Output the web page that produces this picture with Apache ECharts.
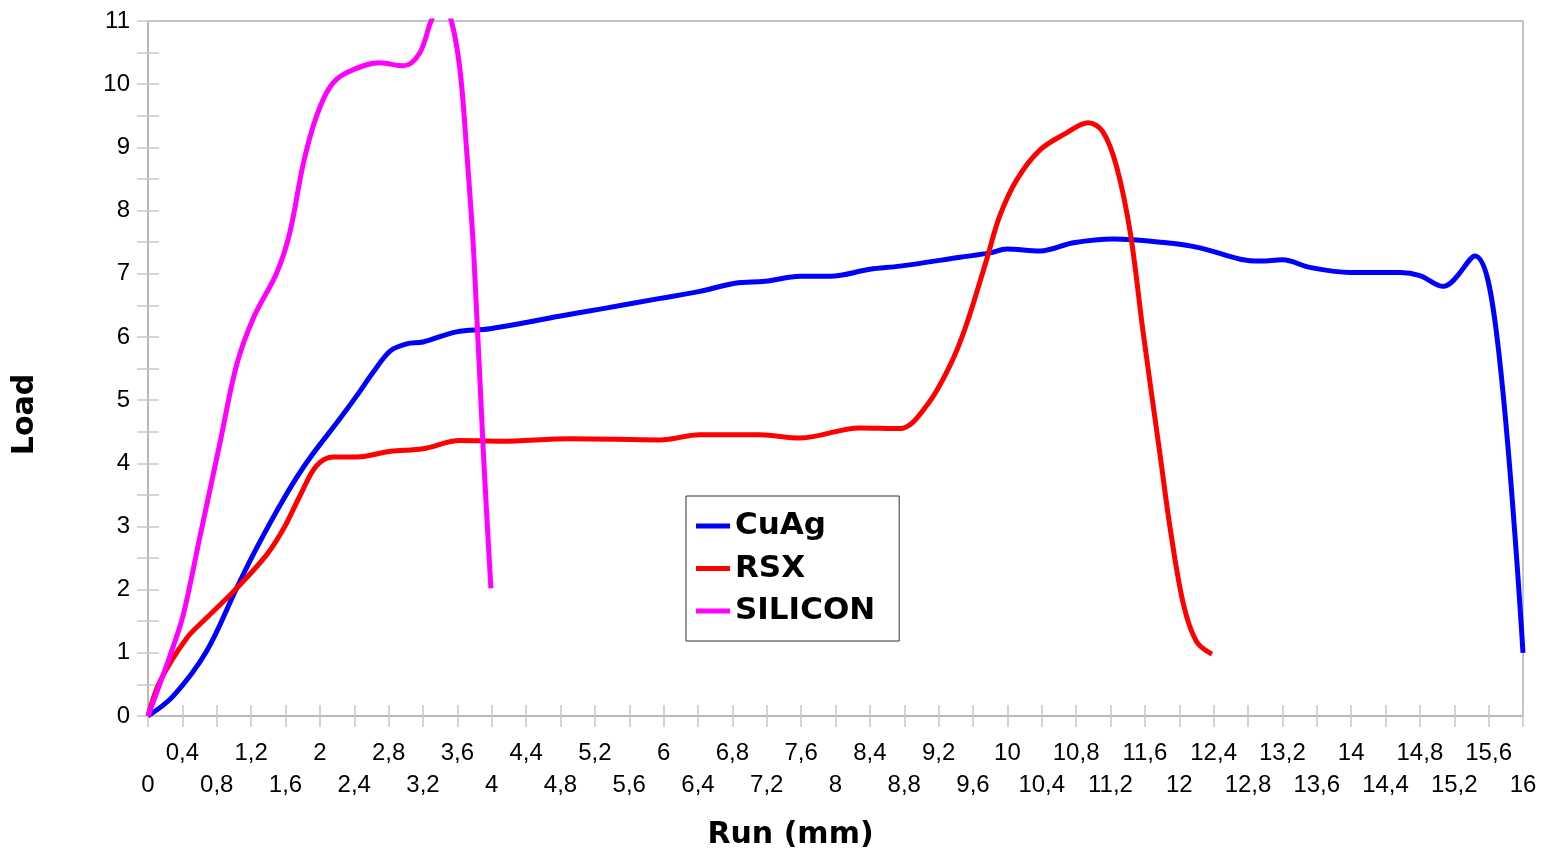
<!DOCTYPE html>
<html>
<head>
<meta charset="utf-8">
<script src="https://cdn.jsdelivr.net/npm/echarts@6/dist/echarts.min.js"></script>
<style>html,body{margin:0;padding:0;background:#fff}#c{width:1543px;height:855px}</style>
</head>
<body>
<div id="c"></div>
<script>
// Data
const seriesNames = ['CuAg', 'RSX', 'SILICON'];
const cuagRun  = [0, 0.29, 0.68, 1.03, 1.26, 1.58, 1.85, 2.23, 2.43, 2.62, 2.82, 3.01, 3.2, 3.59, 3.98, 4.8, 5.26, 5.96, 6.42, 6.83, 7.18, 7.59, 7.94, 8.4, 8.75, 9.45, 9.8, 9.99, 10.38, 10.77, 11.23, 11.85, 12.24, 12.71, 12.95, 13.2, 13.52, 13.99, 14.57, 14.8, 15.07, 15.44, 15.7, 16.0];
const cuagLoad = [0, 0.31, 1.02, 2.02, 2.65, 3.44, 4.02, 4.7, 5.07, 5.44, 5.78, 5.89, 5.92, 6.08, 6.13, 6.33, 6.44, 6.61, 6.72, 6.85, 6.88, 6.96, 6.96, 7.07, 7.12, 7.26, 7.33, 7.39, 7.36, 7.49, 7.55, 7.49, 7.41, 7.23, 7.2, 7.22, 7.1, 7.02, 7.02, 6.97, 6.8, 7.28, 5.97, 1.0];
const rsxRun   = [0, 0.14, 0.45, 0.68, 1.03, 1.38, 1.58, 1.77, 1.96, 2.16, 2.43, 2.82, 3.2, 3.63, 4.1, 4.91, 5.96, 6.42, 7.12, 7.59, 8.28, 8.75, 9.06, 9.33, 9.52, 9.76, 9.91, 10.11, 10.38, 10.69, 10.94, 11.11, 11.27, 11.43, 11.58, 11.78, 11.9, 12.05, 12.2, 12.38];
const rsxLoad  = [0, 0.55, 1.23, 1.55, 2.02, 2.55, 2.97, 3.49, 3.96, 4.1, 4.1, 4.19, 4.23, 4.36, 4.35, 4.39, 4.37, 4.45, 4.45, 4.4, 4.56, 4.55, 4.91, 5.54, 6.18, 7.23, 7.91, 8.49, 8.96, 9.23, 9.39, 9.25, 8.7, 7.65, 6.07, 4.1, 2.92, 1.76, 1.18, 0.98];
const silRun   = [0, 0.26, 0.41, 0.6, 0.84, 1.03, 1.23, 1.5, 1.65, 1.81, 1.96, 2.12, 2.31, 2.7, 2.97, 3.16, 3.3, 3.42, 3.53, 3.63, 3.71, 3.79, 3.9, 3.99];
const silLoad  = [0, 0.97, 1.6, 2.81, 4.34, 5.55, 6.31, 7.02, 7.65, 8.76, 9.49, 9.96, 10.18, 10.34, 10.29, 10.49, 11.02, 11.3, 11.0, 10.23, 8.91, 7.33, 4.23, 2.02];
const xMin = 0, xMax = 16, xStep = 0.4;
const yMin = 0, yMax = 11, yStep = 0.5;
const xTitle = 'Run (mm)', yTitle = 'Load';
const colors = ['#0000ff', '#ff0000', '#ff00ff'];

const zip = (a, b) => a.map((v, i) => [v, b[i]]);
const runs = [cuagRun, rsxRun, silRun];
const loads = [cuagLoad, rsxLoad, silLoad];

const axisGray = '#b3b3b3';
const tickGray = '#c8c8c8';
const fmtNum = v => String(+(+v).toFixed(1)).replace('.', ',');
const isOdd = v => Math.round(v / xStep) % 2 === 1;
const labelFont = {fontFamily: 'Liberation Sans', fontSize: 24, color: '#000'};
const boldFont = {fontFamily: 'DejaVu Sans', fontWeight: 'bold', color: '#000'};

const chart = echarts.init(document.getElementById('c'), null, {renderer: 'canvas'});
chart.setOption({
  animation: false,
  backgroundColor: '#ffffff',
  grid: {left: 148, top: 21, right: 20, bottom: 137, show: true, borderColor: axisGray, borderWidth: 1.5, backgroundColor: 'transparent'},
  legend: {
    data: seriesNames,
    orient: 'vertical',
    left: 686, top: 496,
    icon: 'rect', itemWidth: 34, itemHeight: 5, itemGap: 10.5,
    padding: [14, 24, 14, 10],
    borderColor: '#333', borderWidth: 1, backgroundColor: '#fff',
    textStyle: Object.assign({fontSize: 31, lineHeight: 32}, boldFont)
  },
  xAxis: [{
    // outside ticks + upper row of labels + title
    type: 'value', min: xMin, max: xMax, interval: xStep, position: 'bottom',
    name: xTitle, nameLocation: 'middle', nameGap: 104,
    nameTextStyle: Object.assign({fontSize: 30, padding: [0, 90, 0, 0]}, boldFont),
    axisLine: {show: true, lineStyle: {color: axisGray, width: 1.5}},
    axisTick: {show: true, length: 11, lineStyle: {color: tickGray, width: 1.5}},
    axisLabel: Object.assign({formatter: v => (isOdd(v) ? fmtNum(v) : ''), margin: 25, showMinLabel: true, showMaxLabel: true, hideOverlap: false}, labelFont),
    splitLine: {show: false}
  }, {
    // inside ticks + lower row of labels
    type: 'value', min: xMin, max: xMax, interval: xStep, position: 'bottom',
    axisLine: {show: false},
    axisTick: {show: true, inside: true, length: 11, lineStyle: {color: tickGray, width: 1.5}},
    axisLabel: Object.assign({formatter: v => (isOdd(v) ? '' : fmtNum(v)), margin: 57, showMinLabel: true, showMaxLabel: true, hideOverlap: false}, labelFont),
    splitLine: {show: false}
  }],
  yAxis: [{
    type: 'value', min: yMin, max: yMax, interval: yStep, position: 'left',
    name: yTitle, nameLocation: 'middle', nameGap: 108, nameRotate: 90,
    nameTextStyle: Object.assign({fontSize: 30, padding: [0, 92, 0, 0]}, boldFont),
    axisLine: {show: true, lineStyle: {color: axisGray, width: 1.5}},
    axisTick: {show: true, length: 11, lineStyle: {color: tickGray, width: 1.5}},
    axisLabel: Object.assign({formatter: v => (Math.abs(v - Math.round(v)) < 1e-6 ? String(Math.round(v)) : ''), margin: 18}, labelFont),
    splitLine: {show: false}
  }, {
    type: 'value', min: yMin, max: yMax, interval: yStep, position: 'left',
    axisLine: {show: false},
    axisTick: {show: true, inside: true, length: 11, lineStyle: {color: tickGray, width: 1.5}},
    axisLabel: {show: false}, splitLine: {show: false}
  }],
  series: seriesNames.map((n, i) => ({
    name: n, type: 'line', xAxisIndex: 0, yAxisIndex: 0,
    data: zip(runs[i], loads[i]),
    smooth: 0.35, showSymbol: false, symbol: 'none', clip: true,
    lineStyle: {color: colors[i], width: 5},
    itemStyle: {color: colors[i]}
  }))
});
</script>
</body>
</html>
